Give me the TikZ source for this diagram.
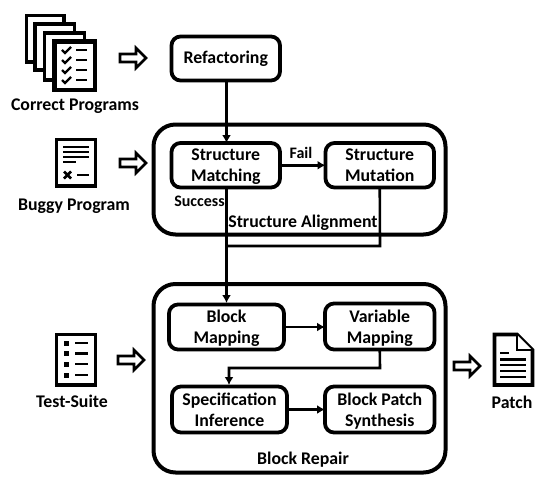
\documentclass[tikz,border=0pt]{standalone}
\usepackage{fontspec}
\setmainfont{Carlito}
\usetikzlibrary{arrows.meta}
\tikzset{
  x=1pt,y=-1pt,
  lbl/.style={font=\fontsize{17.8}{21}\selectfont\bfseries,align=center,text=black,inner sep=0pt},
  sm/.style={font=\fontsize{16}{17}\selectfont\bfseries,text=black,inner sep=0pt},
  outerbox/.style={draw=black,line width=4pt,rounded corners=22pt},
  stepbox/.style={draw=black,line width=3.8pt,rounded corners=9pt,fill=white,anchor=north west,inner sep=0pt,outer sep=0pt,align=center,text depth=0pt,font=\fontsize{17.8}{21}\selectfont\bfseries},
  flow/.style={draw=black,line width=2.6pt,-{Latex[length=8pt,width=9pt]}},
  flowplain/.style={draw=black,line width=2.6pt},
  page/.style={draw=black,line width=3.6pt,fill=white},
  ink/.style={draw=black,line width=2.1pt},
  bigarrow/.style={draw=black,line width=2.6pt,fill=white,miter limit=10},
}
\newcommand{\blockarrow}[2]{% tip-left x, centre y
  \draw[bigarrow] (#1,#2-4) -- (#1+16,#2-4) -- (#1+16,#2-10) -- (#1+26,#2) -- (#1+16,#2+10) -- (#1+16,#2+4) -- (#1,#2+4) -- cycle;}
\newcommand{\tick}[2]{\draw[black,line width=2.3pt] (#1-4,#2) -- (#1-1,#2+3) -- (#1+5,#2-3);}
\begin{document}
\begin{tikzpicture}
\useasboundingbox (0,0) rectangle (540,484);
% outer boxes
\draw[outerbox] (153.5,124.5) rectangle (445.5,234.5);
\draw[outerbox] (153.5,284) rectangle (445.5,472.5);
% step nodes
\node[stepbox,text depth=2pt,minimum width=108.5pt,minimum height=44pt] (refac) at (171.5,36.5) {Refactoring};
\node[stepbox,minimum width=108.5pt,minimum height=44.5pt] (match) at (171.5,143) {Structure\\Matching};
\node[stepbox,minimum width=108.5pt,minimum height=44.5pt] (mut) at (325.5,143) {Structure\\Mutation};
\node[stepbox,minimum width=115pt,minimum height=45pt] (bmap) at (169,304.5) {Block\\Mapping};
\node[stepbox,minimum width=109.5pt,minimum height=46pt] (vmap) at (325,303.5) {Variable\\Mapping};
\node[stepbox,minimum width=115pt,minimum height=46pt] (spec) at (172,386.5) {Specification\\Inference};
\node[stepbox,minimum width=109.5pt,minimum height=46pt] (synth) at (325,386.5) {Block Patch\\Synthesis};
% connectors
\coordinate (j) at (226.5,246);
\draw[flow] (refac.south -| 226.5,0) -- (match.north -| 226.5,0);
\draw[flow] (match.east) -- (mut.west);
\draw[flow] (226.5,188) -- (226.5,303);
\draw[flowplain] (mut.south) -- (380,246) -- (j);
\draw[flow] (bmap.east) -- (vmap.west |- bmap.east);
\draw[flow] (vmap.south) -- (380,368) -- (229,368) -- (229,385);
\draw[flow] (spec.east) -- (synth.west |- spec.east);
% labels
\node[sm] (fail) at (301,152.5) {Fail};
\node[sm] (succ) at (199.5,201) {Success};
\node[lbl] (sa) at (303,222.5) {Structure Alignment};
\node[lbl] (br) at (303,459.5) {Block Repair};
\node[lbl] (l1) at (75,106) {Correct Programs};
\node[lbl] (l2) at (74,206.5) {Buggy Program};
\node[lbl] (l3) at (72,401) {Test-Suite};
\node[lbl] (l4) at (512,402) {Patch};
% block arrows
\blockarrow{120}{58}
\blockarrow{120}{163}
\blockarrow{118}{360}
\blockarrow{454}{366}
% stack of pages
\draw[page] (26.5,15.5) rectangle (64,62);
\draw[page] (35,24) rectangle (74.5,70);
\draw[page] (44.5,33) rectangle (84.5,80);
\draw[page,line width=4.2pt] (54.5,41.5) rectangle (95,90);
\foreach \y in {50,60,70,80}{
  \tick{66}{\y}
  \draw[ink] (76,\y) -- (87,\y);
}
% buggy icon
\draw[page] (56.5,139.5) rectangle (95.5,186);
\draw[ink] (63,147) -- (89,147);
\draw[ink] (63,152) -- (89,152);
\draw[ink] (63,157) -- (89,157);
\draw[ink] (63,162) -- (76,162);
\draw[black,line width=2.8pt] (64,171.5) -- (71,178.5) (71,171.5) -- (64,178.5);
\draw[ink] (77,175) -- (89,175);
% test icon
\draw[page] (56.5,334.5) rectangle (95.5,385);
\foreach \y in {343,353.5,364,375}{
  \fill[black] (63.5,\y-2.5) rectangle (68.5,\y+2.5);
  \draw[ink] (75,\y) -- (88,\y);
}
% patch icon
\draw[page,line join=miter] (494.5,334.5) -- (517,334.5) -- (532.5,350) -- (532.5,385) -- (494.5,385) -- cycle;
\draw[black,line width=2.4pt,fill=white] (517,335) -- (517,350) -- (532,350);
\draw[ink] (500,353) -- (509,353);
\foreach \y in {359.5,365,371,377}{\draw[ink] (500,\y) -- (526,\y);}
\end{tikzpicture}
\end{document}
